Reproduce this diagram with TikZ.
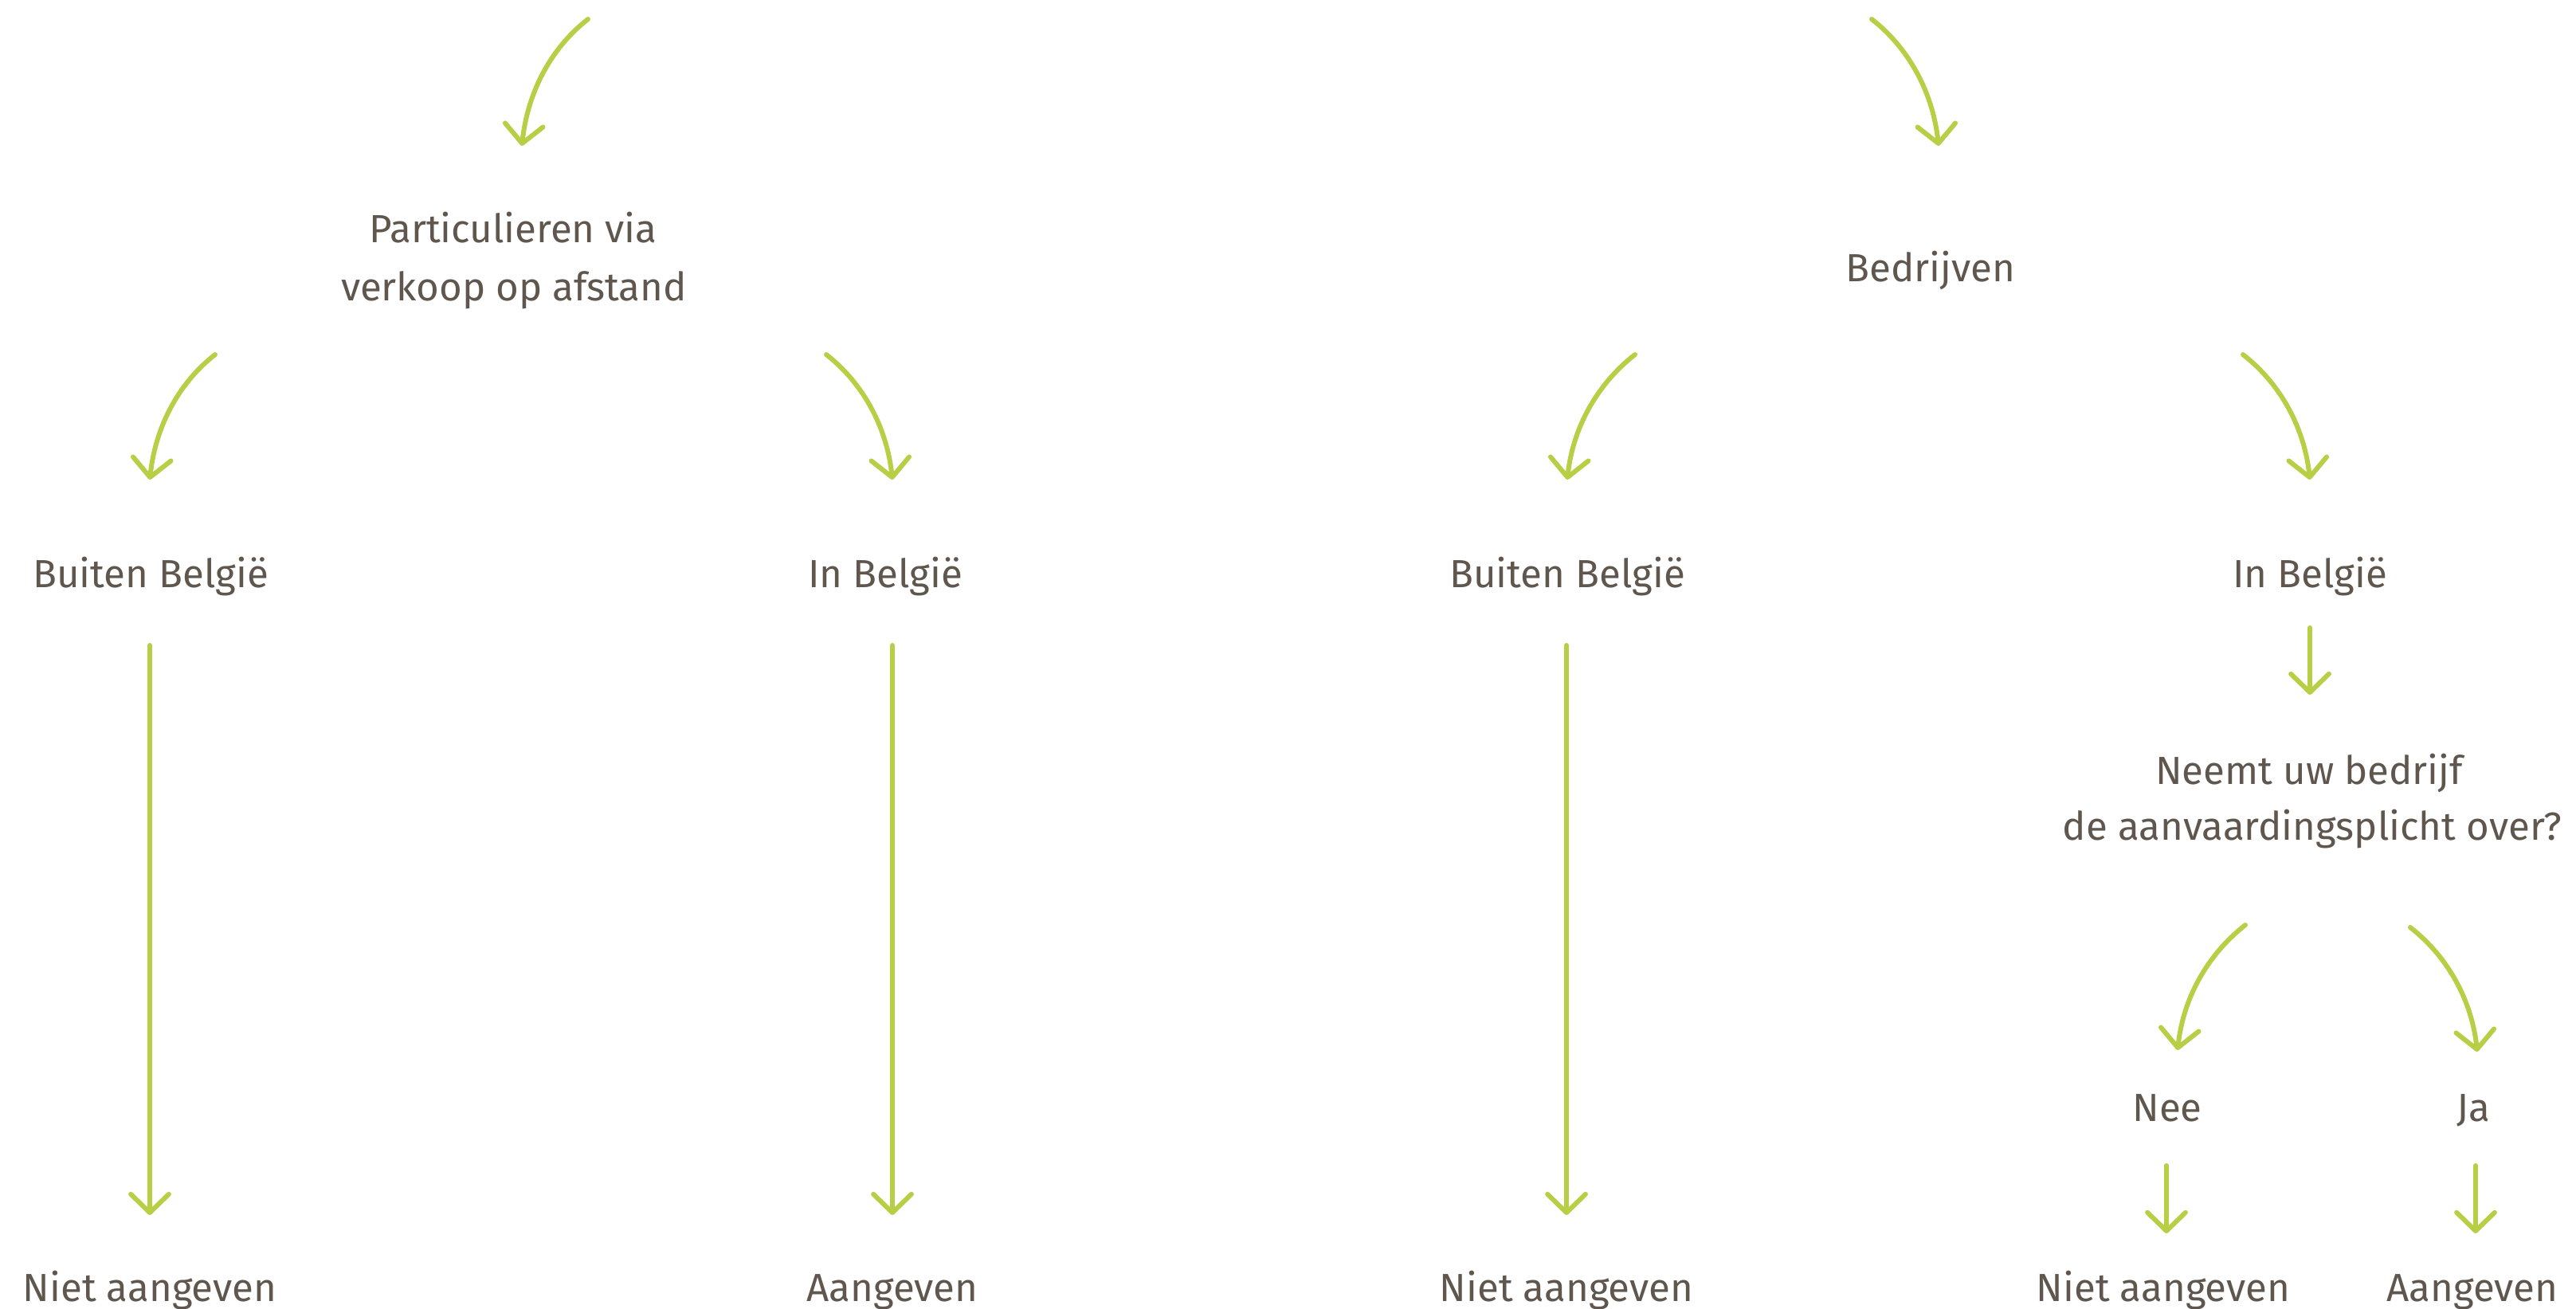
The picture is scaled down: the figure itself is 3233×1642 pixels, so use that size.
\documentclass[tikz,border=0pt]{standalone}
\usepackage{fontspec}
\setmainfont{Fira Sans}
\usetikzlibrary{arrows.meta}
\definecolor{txt}{HTML}{5F564E}
\definecolor{grn}{HTML}{B8CE44}
\tikzset{
  lbl/.style={text=txt, font=\fontsize{14}{21}\selectfont, inner sep=0pt, anchor=base},
  arr/.style={draw=grn, line width=1.7pt, line cap=round,
    -{Straight Barb[length=6.6pt, width=13.6pt, line cap=round, line join=round]}},
  cl/.style={out=218, in=84, looseness=0.9},
  cr/.style={out=-38, in=96, looseness=0.9}
}
\begin{document}
\begin{tikzpicture}[x=0.01cm, y=-0.01cm]
\useasboundingbox[fill=white] (0,0) rectangle (3233,1642);

% text nodes
\node[lbl] (part1) at (644,304) {Particulieren via};
\node[lbl] (part2) at (645,377) {verkoop op afstand};
\node[lbl] (bedr) at (2423,353) {Bedrijven};
\node[lbl] (pbuiten) at (189,737) {Buiten België};
\node[lbl] (pin) at (1111,737) {In België};
\node[lbl] (bbuiten) at (1967,737) {Buiten België};
\node[lbl] (bin) at (2899,737) {In België};
\node[lbl] (q1) at (2898,984) {Neemt uw bedrijf};
\node[lbl] (q2) at (2902,1054) {de aanvaardingsplicht over?};
\node[lbl] (nee) at (2720,1407) {Nee};
\node[lbl] (ja) at (3104,1407) {Ja};
\node[lbl] (r1) at (188,1633) {Niet aangeven};
\node[lbl] (r2) at (1120,1633) {Aangeven};
\node[lbl] (r3) at (1966,1633) {Niet aangeven};
\node[lbl] (r4) at (2715,1633) {Niet aangeven};
\node[lbl] (r5) at (3103,1633) {Aangeven};

% connector end points
\coordinate (a1s) at (738,24);   \coordinate (a1e) at (655,183);
\coordinate (a2s) at (2349,24);  \coordinate (a2e) at (2433,183);
\coordinate (b1s) at (270,445);  \coordinate (b1e) at (188,602);
\coordinate (b2s) at (1037,445); \coordinate (b2e) at (1120,602);
\coordinate (b3s) at (2052,445); \coordinate (b3e) at (1967,602);
\coordinate (b4s) at (2815,445); \coordinate (b4e) at (2899,602);
\coordinate (l1s) at (188,810);  \coordinate (l1e) at (188,1525);
\coordinate (l2s) at (1120,810); \coordinate (l2e) at (1120,1525);
\coordinate (l3s) at (1966,810); \coordinate (l3e) at (1966,1525);
\coordinate (s1s) at (2899,788); \coordinate (s1e) at (2899,872);
\coordinate (c1s) at (2818,1161); \coordinate (c1e) at (2733,1318);
\coordinate (c2s) at (3025,1164); \coordinate (c2e) at (3109,1320);
\coordinate (d1s) at (2719,1463); \coordinate (d1e) at (2719,1548);
\coordinate (d2s) at (3107,1463); \coordinate (d2e) at (3107,1548);

% connectors
\draw[arr] (a1s) to[cl] (a1e);
\draw[arr] (a2s) to[cr] (a2e);
\draw[arr] (b1s) to[cl] (b1e);
\draw[arr] (b2s) to[cr] (b2e);
\draw[arr] (b3s) to[cl] (b3e);
\draw[arr] (b4s) to[cr] (b4e);
\draw[arr] (l1s) -- (l1e);
\draw[arr] (l2s) -- (l2e);
\draw[arr] (l3s) -- (l3e);
\draw[arr] (s1s) -- (s1e);
\draw[arr] (c1s) to[cl] (c1e);
\draw[arr] (c2s) to[cr] (c2e);
\draw[arr] (d1s) -- (d1e);
\draw[arr] (d2s) -- (d2e);
\end{tikzpicture}
\end{document}
